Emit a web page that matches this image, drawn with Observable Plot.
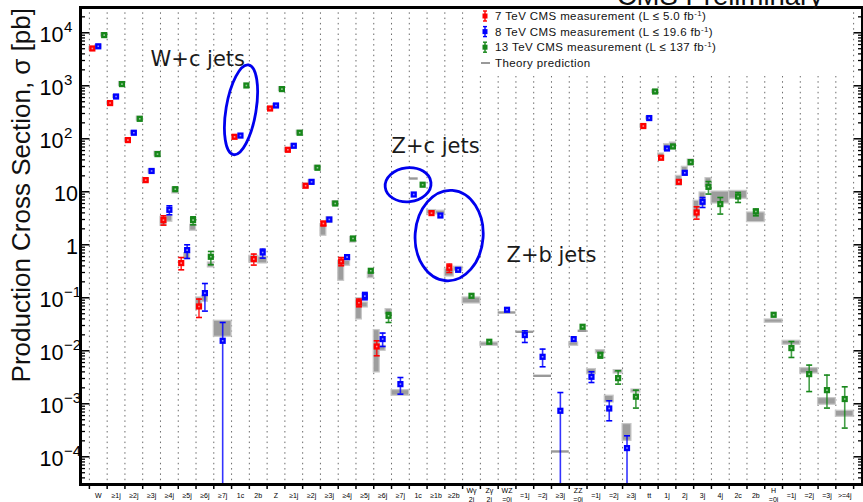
<!DOCTYPE html>
<html><head><meta charset="utf-8">
<script src="https://cdn.jsdelivr.net/npm/d3@7"></script>
<script src="https://cdn.jsdelivr.net/npm/@observablehq/plot@0.6"></script>
<style>
html,body{margin:0;padding:0;background:#fff;}
#wrap{position:relative;width:863px;height:502px;overflow:hidden;background:#fff;}
#overlay{position:absolute;left:0;top:0;pointer-events:none;font-family:"Liberation Sans",Arial,sans-serif;}
</style></head>
<body><div id="wrap"><div id="chart"></div><svg id="overlay" width="863" height="502"></svg></div>
<script>
// ---------- data ----------
const categories = ["W","≥1j","≥2j","≥3j","≥4j","≥5j","≥6j","≥7j","1c","2b",
  "Z","≥1j","≥2j","≥3j","≥4j","≥5j","≥6j","≥7j","1c","≥1b","≥2b",
  "Wγ\n2j","Zγ\n2j","WZ\n=0j","=1j","=2j","≥3j","ZZ\n=0j","=1j","=2j","≥3j",
  "tt","1j","2j","3j","4j","2c","2b","H\n=0j","=1j","=2j","=3j",">=4j"];

const yTicks    = [1e-4, 1e-3, 1e-2, 1e-1, 1, 10, 1e2, 1e3, 1e4];
const yTickBase = ["10","10","10","10","1","10","10","10","10"];
const yTickExp  = ["−4","−3","−2","−1","","","2","3","4"];

// [category index, value, error low, error high, theory low, theory high]  (pb)
const cms7 = [
  [0, 5060, null, null, 4750, 5350],
  [1, 472, null, null, 440, 500],
  [2, 94.5, null, null, 88, 101],
  [3, 16.6, null, null, 15.3, 17.8],
  [4, 2.92, 2.35, 3.52, 2.28, 3.37],
  [5, 0.452, 0.337, 0.575, null, null],
  [6, 0.0686, 0.0425, 0.0945, 0.0612, 0.1014],
  [8, 109, null, null, null, null],
  [9, 0.537, 0.414, 0.668, 0.463, 0.620],
  [10, 373, null, null, 350, 395],
  [11, 62, null, null, 57, 66],
  [12, 13.0, null, null, 11.8, 14.2],
  [13, 2.52, 2.3, 2.75, 1.48, 2.46],
  [14, 0.484, 0.402, 0.575, 0.209, 0.499],
  [15, 0.0805, 0.0676, 0.0945, 0.039, 0.0986],
  [16, 0.01205, 0.00805, 0.01545, 0.0039, 0.0246],
  [19, 3.96, null, null, 3.80, 4.52],
  [20, 0.368, 0.300, 0.432, 0.252, 0.348],
  [31, 174, null, null, 162, 186],
  [32, 43.8, null, null, 45.7, 52.8],
  [33, 15.4, null, null, 13.0, 20.0],
  [34, 4.07, 3.05, 5.21, 3.27, 6.76]
];
const cms8 = [
  [0, 5560, null, null, 5250, 5850],
  [1, 628, null, null, 590, 665],
  [2, 130, null, null, 122, 139],
  [3, 24.7, null, null, 22.5, 26.5],
  [4, 4.57, 3.68, 5.44, 2.72, 3.52],
  [5, 0.794, 0.552, 1.0, 0.537, 0.697],
  [6, 0.1227, 0.0561, 0.186, 0.0841, 0.109],
  [7, 0.01545, 1e-7, 0.0342, 0.0184, 0.0368],
  [8, 115, null, null, null, null],
  [9, 0.716, 0.561, 0.829, 0.444, 0.594],
  [10, 425, null, null, 400, 450],
  [11, 73.8, null, null, 68, 79],
  [12, 15.4, null, null, 14, 16.5],
  [13, 3.0, null, null, 2.6, 3.3],
  [14, 0.586, null, null, 0.402, 0.499],
  [15, 0.1076, 0.0917, 0.126, 0.0656, 0.0815],
  [16, 0.01663, 0.01205, 0.0216, 0.01, 0.0124],
  [17, 0.00235, 0.00152, 0.00313, 0.00142, 0.00181],
  [18, 8.89, null, null, 17.8, 17.8],
  [19, 3.57, null, null, 3.75, 4.4],
  [20, 0.337, null, null, 0.323, 0.385],
  [23, 0.0594, null, null, 0.0528, 0.0528],
  [24, 0.0198, 0.01435, 0.0238, 0.0228, 0.0228],
  [25, 0.0077, 0.00499, 0.01076, 0.00337, 0.00337],
  [26, 0.000738, 1e-7, 0.00163, 0.000126, 0.000126],
  [27, 0.01663, null, null, 0.0124, 0.01435],
  [28, 0.00323, 0.00252, 0.00402, 0.00363, 0.00452],
  [29, 0.000815, 0.000478, 0.00114, 0.00106, 0.00142],
  [30, 0.000146, 1e-7, 0.000249, 0.0002, 0.000414],
  [31, 246, null, null, 230, 262],
  [32, 65.6, null, null, 61.2, 79.4],
  [33, 22.8, null, null, 20.0, 29.6],
  [34, 6.48, 5.06, 7.8, 5.44, 9.7]
];
const cms13 = [
  [0, 9050, null, null, 8500, 9800],
  [1, 1076, null, null, 1000, 1180],
  [2, 238, null, null, 220, 262],
  [3, 51.4, null, null, 47, 57],
  [4, 11.2, null, null, 9.29, 12.1],
  [5, 2.92, 2.38, 3.37, 1.84, 2.38],
  [6, 0.594, 0.420, 0.748, 0.373, 0.463],
  [8, 1014, null, null, null, null],
  [10, 866, null, null, 800, 940],
  [11, 130, null, null, 120, 142],
  [12, 28.4, null, null, 26, 31],
  [13, 6.01, null, null, 5.5, 6.6],
  [14, 1.315, null, null, 1.1, 1.4],
  [15, 0.323, null, null, 0.235, 0.300],
  [16, 0.0457, 0.0342, 0.0528, 0.0492, 0.0612],
  [18, 13.6, null, null, null, null],
  [21, 0.109, null, null, 0.078, 0.1014],
  [22, 0.0148, null, null, 0.0124, 0.01435],
  [27, 0.0284, null, null, 0.0238, 0.0238],
  [28, 0.0083, 0.00728, 0.0093, 0.0089, 0.0103],
  [29, 0.00305, 0.00235, 0.0042, 0.00373, 0.00432],
  [30, 0.00136, 0.00083, 0.00181, 0.00163, 0.00186],
  [31, 780, null, null, 730, 830],
  [32, 71.6, null, null, 63.9, 85.1],
  [33, 36.3, null, null, 30.9, 40.7],
  [34, 12.4, 9.06, 15.6, 12.4, 18.1],
  [35, 5.86, 3.80, 7.8, 6.01, 10.1],
  [36, 8.15, 6.28, 9.7, 7.38, 10.4],
  [37, 4.25, 3.52, 4.72, 2.68, 4.07],
  [38, 0.0478, null, null, 0.0337, 0.039],
  [39, 0.01125, 0.00748, 0.01496, 0.0130, 0.01545],
  [40, 0.00363, 0.0017, 0.00537, 0.00373, 0.00472],
  [41, 0.00181, 0.00083, 0.00348, 0.00096, 0.00128],
  [42, 0.00123, 0.000348, 0.00209, 0.000569, 0.000738]
];

const legendEnergy = ["7", "8", "13"];
const legendLumi = ["5.0", "19.6", "137"];
const seriesColors = ["#ff0000", "#0000ff", "#17871a"];

const annotationText = ["W+c jets", "Z+c jets", "Z+b jets"];
const annotationX = [3.44, 17.0, 23.47];
const annotationY = [2380, 54.5, 0.478];

// ellipse centres (category units, pb)
const ellipseX = [8.56, 17.96, 20.27];
const ellipseY = [345, 13.3, 1.46];

// ---------- derived ----------
const series = [cms7, cms8, cms13];
const present = categories.map(() => []);
series.forEach((rows, si) => rows.forEach(r => present[r[0]].push(si)));
const points = [];
series.forEach((rows, si) => rows.forEach(([c, v, lo, hi, tlo, thi]) => {
  const n = present[c].length, k = present[c].indexOf(si);
  points.push({s: si, c, v, lo, hi, tlo, thi,
    x: c + (k + 0.5) / n, x1: c + k / n, x2: c + (k + 1) / n});
}));
const boxes = points.filter(p => p.tlo != null && p.thi > p.tlo);
const tlines = points.filter(p => p.tlo != null && p.thi === p.tlo);
const boundaries = d3.range(0, categories.length + 1);
const yMinor = [];
for (let e = -5; e <= 4; e++) for (let m = 2; m <= 9; m++) {
  const v = m * Math.pow(10, e);
  if (v >= 3e-5 && v <= 3e4) yMinor.push(v);
}
const yLab = yTicks.map((v, i) => ({v, base: yTickBase[i], exp: yTickExp[i]}));
const annotations = annotationText.map((t, i) => ({t, x: annotationX[i], y: annotationY[i]}));
const ellipseStyle = [{rx: 15, ry: 45.5, a: 9.5}, {rx: 23, ry: 17, a: -6}, {rx: 34, ry: 45.3, a: 4}];

const capSymbol = {draw(ctx) { ctx.moveTo(-3, 0); ctx.lineTo(3, 0); }};
const NS = "http://www.w3.org/2000/svg";

function ellipseMark(index, scales) {
  const sc = scales && scales.x ? scales : index;
  const g = document.createElementNS(NS, "g");
  ellipseX.forEach((ex, i) => {
    const e = document.createElementNS(NS, "ellipse");
    const st = ellipseStyle[i];
    e.setAttribute("cx", 0); e.setAttribute("cy", 0);
    e.setAttribute("rx", st.rx); e.setAttribute("ry", st.ry);
    e.setAttribute("transform", `translate(${sc.x(ex)},${sc.y(ellipseY[i])}) rotate(${st.a})`);
    e.setAttribute("fill", "none"); e.setAttribute("stroke", "#0000ee"); e.setAttribute("stroke-width", 2.8);
    g.appendChild(e);
  });
  return g;
}

const seriesMarks = [];
series.forEach((rows, si) => {
  const pts = points.filter(p => p.s === si);
  const errs = pts.filter(p => p.lo != null);
  const col = seriesColors[si];
  seriesMarks.push(
    Plot.ruleX(errs, {x: "x", y1: "lo", y2: "hi", stroke: col, strokeWidth: 1.6, strokeOpacity: 0.8, clip: true}),
    Plot.dot(errs, {x: "x", y: "lo", symbol: capSymbol, stroke: col, fill: "none", strokeWidth: 1.6, clip: true}),
    Plot.dot(errs, {x: "x", y: "hi", symbol: capSymbol, stroke: col, fill: "none", strokeWidth: 1.6, clip: true}),
    Plot.dot(pts, {x: "x", y: "v", symbol: "square", r: 3.5, fill: col}),
    Plot.dot(pts, {x: "x", y: "v", symbol: "square", r: 0.9, fill: "white", fillOpacity: 0.55})
  );
});

const chart = Plot.plot({
  width: 863, height: 502,
  marginLeft: 80, marginRight: 1, marginTop: 7, marginBottom: 18,
  style: {fontFamily: "'Liberation Sans', Arial, sans-serif", background: "white", color: "black"},
  x: {domain: [-0.5, 43.5]},
  y: {type: "log", domain: [3e-5, 3e4]},
  marks: [
    Plot.ruleX(boundaries, {stroke: "#6a6a6a", strokeWidth: 1, strokeDasharray: "1.5,3.8"}),
    Plot.rect(boxes, {x1: "x1", x2: "x2", y1: "tlo", y2: "thi", fill: "#9d9d9d", stroke: "#c8c8c8", strokeWidth: 1.2}),
    Plot.ruleY(tlines, {x1: "x1", x2: "x2", y: "tlo", stroke: "#999", strokeWidth: 2.4}),
    ...seriesMarks,
    ellipseMark,
    Plot.text(annotations, {x: "x", y: "y", text: "t", textAnchor: "start", lineAnchor: "bottom",
      fontSize: 21, fontFamily: "DejaVu Sans", fill: "#1a1a1a"}),
    Plot.axisY({ticks: yMinor, tickSize: -5, tickFormat: () => "", strokeWidth: 1.3, label: null}),
    Plot.axisY({ticks: yTicks, tickSize: -9.5, tickFormat: () => "", strokeWidth: 1.5, label: null}),
    Plot.axisY({anchor: "right", ticks: yMinor, tickSize: -5, tickFormat: () => "", strokeWidth: 1.3, label: null}),
    Plot.axisY({anchor: "right", ticks: yTicks, tickSize: -9.5, tickFormat: () => "", strokeWidth: 1.5, label: null}),
    Plot.text(yLab.filter(d => d.exp === ""), {y: "v", text: "base", frameAnchor: "left", textAnchor: "end",
      dx: -2.5, dy: 2.5, lineAnchor: "middle", fontSize: 21.5}),
    Plot.text(yLab.filter(d => d.exp !== ""), {y: "v", text: "base", frameAnchor: "left", textAnchor: "end",
      dx: -17, dy: 2.5, lineAnchor: "middle", fontSize: 21.5}),
    Plot.text(yLab.filter(d => d.exp !== ""), {y: "v", text: "exp", frameAnchor: "left", textAnchor: "start",
      dx: -16.5, dy: -0.3, lineAnchor: "bottom", fontSize: 15}),
    Plot.axisX({ticks: boundaries, tickSize: 5, tickFormat: () => "", strokeWidth: 1.5, label: null}),
    Plot.text(categories, {x: (d, i) => i + 0.5, text: d => d, frameAnchor: "bottom", dy: 10.3,
      lineAnchor: "middle", lineHeight: 1.3, fontSize: 7}),
    Plot.frame({stroke: "black", strokeWidth: 3})
  ]
});
document.getElementById("chart").appendChild(chart);

// ---------- overlay texts: title, y label, legend ----------
const ov = document.getElementById("overlay");
function mk(tag, attrs, parent, text) {
  const e = document.createElementNS(NS, tag);
  for (const k in attrs) e.setAttribute(k, attrs[k]);
  if (text != null) e.textContent = text;
  parent.appendChild(e);
  return e;
}
mk("text", {x: 823, y: 4.5, "text-anchor": "end", "font-size": 27.5, fill: "#111"}, ov, "CMS Preliminary");
mk("text", {transform: "translate(29.5,8) rotate(-90)", "text-anchor": "end", "font-size": 26, fill: "#111"}, ov,
   "Production Cross Section, σ [pb]");
// legend box (white fill, no border) hiding the grid lines behind it
mk("rect", {x: 470, y: 9, width: 376, height: 67, fill: "white"}, ov);
legendEnergy.forEach((en, i) => {
  const base = 20 + i * 15.6, cy = base - 4, col = seriesColors[i];
  mk("line", {x1: 485, x2: 485, y1: cy - 5, y2: cy + 5, stroke: col, "stroke-width": 1.4}, ov);
  mk("line", {x1: 483, x2: 487, y1: cy - 5, y2: cy - 5, stroke: col, "stroke-width": 1.4}, ov);
  mk("line", {x1: 483, x2: 487, y1: cy + 5, y2: cy + 5, stroke: col, "stroke-width": 1.4}, ov);
  mk("rect", {x: 482.5, y: cy - 2.5, width: 5, height: 5, fill: col}, ov);
  const t = mk("text", {x: 495, y: base, "font-size": 11.5, "letter-spacing": 0.4, fill: "#111"}, ov);
  mk("tspan", {}, t, `${en} TeV CMS measurement (L ≤ ${legendLumi[i]} fb`);
  mk("tspan", {dy: -4, "font-size": 8}, t, "-1");
  mk("tspan", {dy: 4}, t, ")");
});
mk("line", {x1: 481, x2: 490, y1: 63, y2: 63, stroke: "#999", "stroke-width": 2}, ov);
mk("text", {x: 495, y: 66.8, "font-size": 11.5, "letter-spacing": 0.4, fill: "#111"}, ov, "Theory prediction");
</script>
</body></html>
